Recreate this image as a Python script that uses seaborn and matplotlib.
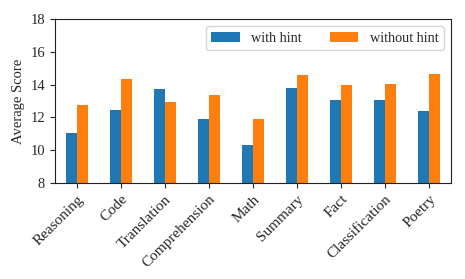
import matplotlib
matplotlib.use("Agg")
import matplotlib.pyplot as plt
import seaborn as sns
import pandas as pd

categories = ["Reasoning", "Code", "Translation", "Comprehension", "Math",
              "Summary", "Fact", "Classification", "Poetry"]
with_hint = [11.03, 12.47, 13.71, 11.88, 10.30, 13.77, 13.06, 13.04, 12.41]
without_hint = [12.76, 14.36, 12.96, 13.35, 11.92, 14.57, 13.98, 14.04, 14.63]
series_names = ["with hint", "without hint"]
colors = ["#1f77b4", "#ff7f0e"]

df = pd.DataFrame({
    "Category": categories * 2,
    "Score": with_hint + without_hint,
    "Series": [series_names[0]] * len(categories) + [series_names[1]] * len(categories),
})

sns.set_style("ticks")
plt.rcParams["font.family"] = ["Liberation Serif", "DejaVu Serif"]
plt.rcParams["mathtext.fontset"] = "stix"

fig = plt.figure(figsize=(4.65, 2.79), dpi=100)
ax = fig.add_axes([0.118, 0.344, 0.852, 0.588])

sns.barplot(data=df, x="Category", y="Score", hue="Series", palette=colors,
            width=0.5, gap=0, saturation=1, ax=ax, linewidth=0)

ax.set_ylim(8, 18)
ax.set_xlim(-0.5, len(categories) - 0.5)
ax.set_yticks([8, 10, 12, 14, 16, 18])
ax.set_ylabel("Average Score", fontsize=10.5)
ax.set_xlabel("")
ax.tick_params(axis="y", labelsize=10.5, length=3.5, width=0.8, direction="out")
ax.tick_params(axis="x", labelsize=11, length=3.5, width=0.8, direction="out")
plt.setp(ax.get_xticklabels(), rotation=45, ha="right", rotation_mode="anchor")
for s in ax.spines.values():
    s.set_visible(True)
    s.set_linewidth(0.8)
    s.set_color("#222222")

ax.legend(loc="upper right", ncol=2, fontsize=10.2, columnspacing=2.0,
          frameon=True, fancybox=True, framealpha=0.8, edgecolor="#cccccc",
          title=None)

fig.savefig("out.png", dpi=100)
